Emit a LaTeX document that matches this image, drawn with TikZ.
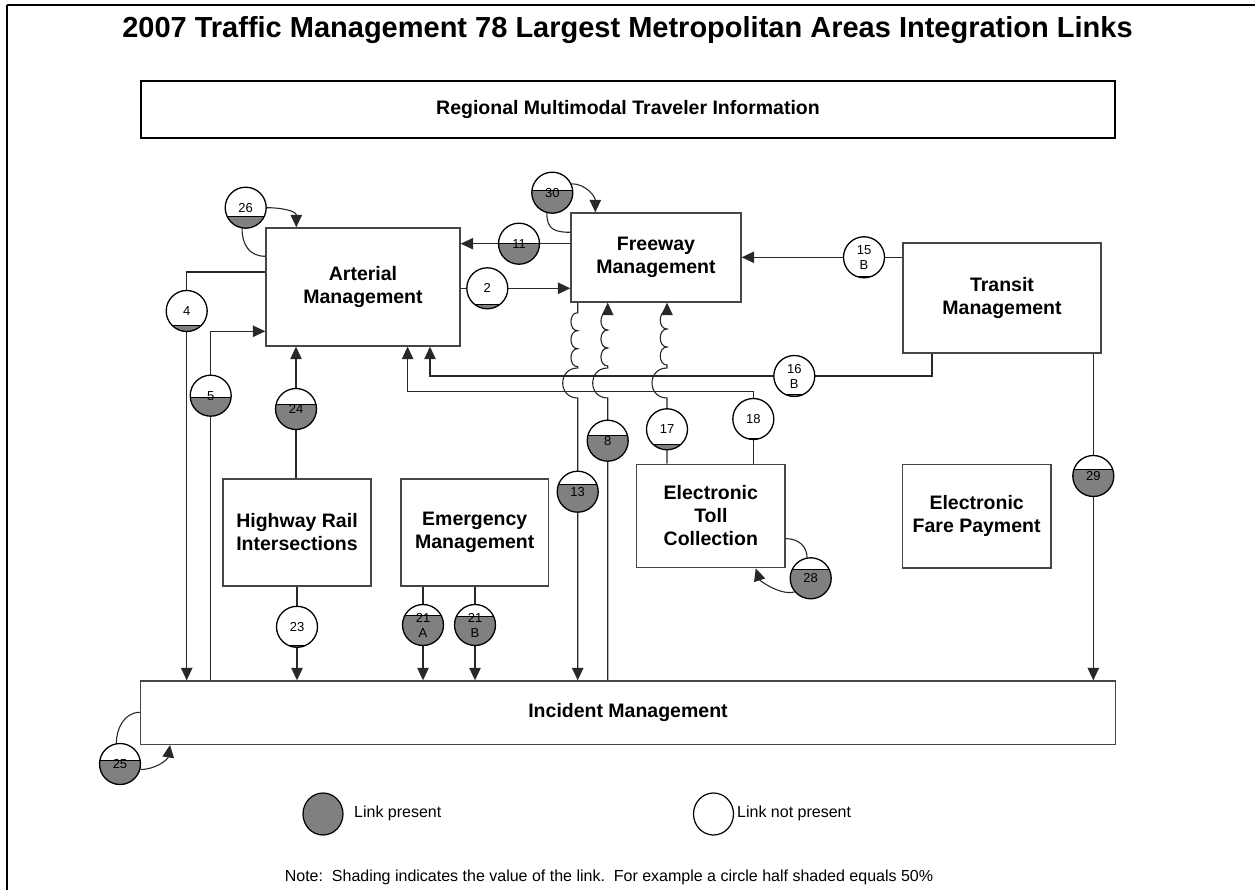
\documentclass[tikz,border=0pt]{standalone}
\usepackage{fontspec}
\setmainfont{Liberation Sans}
\usetikzlibrary{arrows.meta,calc,shapes.geometric}
\definecolor{shadegray}{RGB}{128,128,128}
\definecolor{edgegray}{RGB}{70,70,70}
\definecolor{linkgray}{RGB}{40,40,40}
\pgfdeclarelayer{back}
\pgfsetlayers{back,main}

\tikzset{
  box/.style={draw=edgegray, line width=1.4pt, fill=white, inner sep=0pt, align=center,
              font=\fontsize{19.5}{23}\selectfont\bfseries},
  link/.style={draw=linkgray, line width=1.1pt},
  arr/.style={link, -{Triangle[length=12.5pt,width=11.5pt]}},
  lc/.style={circle, draw=black, line width=1.3pt, minimum size=41pt, inner sep=0pt,
             align=center, font=\fontsize{13}{15}\selectfont},
  legtext/.style={anchor=west, inner sep=0pt, font=\fontsize{16}{18}\selectfont},
  legcirc/.style={ellipse, draw=black, line width=1.2pt, minimum width=40pt, minimum height=42pt, inner sep=0pt},
}

% link circle: name, x, y, shaded fraction, label
\newcommand\linkcirc[5]{%
  \pgfmathsetmacro\lkLvl{#3+20.5-41*#4}%
  \begin{scope}
    \clip (#2,#3) circle[radius=20.5];
    \fill[white] (#2,#3) circle[radius=20.5];
    \fill[shadegray] (#2-21,\lkLvl) rectangle (#2+21,#3+21);
    \draw[line width=1pt] (#2-21,\lkLvl) -- (#2+21,\lkLvl);
  \end{scope}
  \node[lc] (#1) at (#2,#3) {#5};
}

\begin{document}
\begin{tikzpicture}[x=1pt,y=-1pt]
\useasboundingbox (0,0) rectangle (1255,890);

% page frame
\draw[line width=2.5pt] (7,5) -- (1255,5);
\draw[line width=2.5pt] (7,5) -- (7,890);

\node[font=\fontsize{29}{32}\selectfont\bfseries] (title) at (627.5,30)
  {2007 Traffic Management 78 Largest Metropolitan Areas Integration Links};

% systems
\node[box, draw=black, line width=1.1pt, minimum width=974pt, minimum height=57pt] (reg) at (628,109.5) {Regional Multimodal Traveler Information};
\node[box, minimum width=194pt, minimum height=118pt] (art) at (363,287) {Arterial\\Management};
\node[box, minimum width=170pt, minimum height=89pt] (fwy) at (656,257.5) {Freeway\\Management};
\node[box, minimum width=198pt, minimum height=110pt] (trn) at (1002,298) {Transit\\Management};
\node[box, minimum width=148pt, minimum height=107pt] (hri) at (297,532.5) {Highway Rail\\Intersections};
\node[box, minimum width=147.5pt, minimum height=107pt] (emg) at (474.75,532.5) {Emergency\\Management};
\node[box, minimum width=148.3pt, minimum height=103.4pt] (etc) at (710.85,516) {Electronic\\Toll\\Collection};
\node[box, minimum width=148.7pt, minimum height=103.7pt] (efp) at (976.65,516.15) {Electronic\\Fare Payment};
\node[box, minimum width=974.6pt, minimum height=63.3pt] (inc) at (628,712.65) {Incident Management};

% link circles
\linkcirc{c26}{245.7}{207.7}{0.29}{26}
\linkcirc{c30}{552.3}{192.7}{0.55}{30}
\linkcirc{c11}{519}{243.7}{0.50}{11}
\linkcirc{c2}{487.3}{288.3}{0.11}{2}
\linkcirc{c4}{186.7}{311}{0.15}{4}
\linkcirc{c15}{864}{257.3}{0.03}{15\\B}
\linkcirc{c5}{210.7}{395.7}{0.46}{5}
\linkcirc{c24}{296}{409}{0.60}{24}
\linkcirc{c16}{794.3}{376}{0.04}{16\\B}
\linkcirc{c18}{753.3}{419}{0.03}{18}
\linkcirc{c17}{667}{429.3}{0.13}{17}
\linkcirc{c8}{607.7}{440.7}{0.62}{8}
\linkcirc{c13}{577.7}{491.7}{0.67}{13}
\linkcirc{c29}{1093.3}{476}{0.67}{29}
\linkcirc{c28}{810.7}{578.3}{0.71}{28}
\linkcirc{c23}{297}{626.8}{0.04}{23}
\linkcirc{c21a}{423}{625}{0.72}{21\\A}
\linkcirc{c21b}{475}{625}{0.70}{21\\B}
\linkcirc{c25}{120}{764}{0.58}{25}

% levels of the line hops
\coordinate (hopT) at (0,368);
\coordinate (hopB) at (0,398);

\begin{pgfonlayer}{back}
% self links
\draw[link] ($(art.north west)+(0,29)$) .. controls +(-16,0) and +(0,16) .. (c26.-100);
\draw[arr] (c26.east) .. controls +(16,0) and +(0,-16) .. ($(art.north west)+(31,0)$);
\draw[arr] (c30.25) .. controls +(14,0) and +(0,-16) .. ($(fwy.north west)+(25,0)$);
\draw[link] ($(fwy.north west)+(0,20)$) .. controls +(-16,0) and +(0,16) .. (c30.-105);
\draw[link] ($(etc.north east)+(0,75)$) .. controls +(14,0) and +(0,-10) .. (c28.100);
\draw[arr] (c28.-140) .. controls +(-14,4) and +(4,12) .. ($(etc.south east)+(-30,0)$);
\draw[link] ($(inc.north west)+(0,32)$) .. controls +(-16,0) and +(0,-14) .. (c25.100);
\draw[arr] (c25.-15) .. controls +(16,0) and +(-2,14) .. ($(inc.south west)+(30,0)$);

% arterial / freeway
\draw[arr] (fwy.west |- c11.center) -- (art.east |- c11.center);
\draw[arr] (art.east |- c2.center) -- (fwy.west |- c2.center);
\draw[arr] (trn.west |- c15.center) -- (fwy.east |- c15.center);

% arterial / incident
\draw[arr] ($(art.north west)+(0,44.7)$) -| (c4.center |- inc.north);
\draw[arr] (c5.center |- inc.north) |- ($(art.north west)+(0,104)$);
\draw[arr] (c24.center |- hri.north) -- (c24.center |- art.south);

% transit and toll to arterial
\draw[arr] ($(trn.south west)+(29.7,0)$) |- (c16.center) -| ($(art.south west)+(164.7,0)$);
\draw[arr] (c18.center |- etc.north) |- ($(art.south west)+(142.3,44.7)$) -- ($(art.south west)+(142.3,0)$);

% freeway links with waves and hops
\draw[arr] (c13.center |- fwy.south) -- ++(0,10)
  .. controls +(-9,0) and +(-9,0) .. ++(0,18)
  .. controls +(-9,0) and +(-9,0) .. ++(0,18)
  .. controls +(-9,0) and +(-9,0) .. ++(0,18)
  -- (c13.center |- hopT) .. controls +(-20,0) and +(-20,0) .. (c13.center |- hopB)
  -- (c13.center |- inc.north);
\draw[arr] (c8.center |- inc.north) -- (c8.center |- hopB)
  .. controls +(-20,0) and +(-20,0) .. (c8.center |- hopT) -- ++(0,-2)
  .. controls +(-9,0) and +(-9,0) .. ++(0,-18)
  .. controls +(-9,0) and +(-9,0) .. ++(0,-18)
  .. controls +(-9,0) and +(-9,0) .. ++(0,-18)
  -- (c8.center |- fwy.south);
\draw[arr] (c17.center |- etc.north) -- (c17.center |- hopB)
  .. controls +(-20,0) and +(-20,0) .. (c17.center |- hopT) -- ++(0,-3)
  .. controls +(-9,0) and +(-9,0) .. ++(0,-18)
  .. controls +(-9,0) and +(-9,0) .. ++(0,-18)
  .. controls +(-9,0) and +(-9,0) .. ++(0,-18)
  -- (c17.center |- fwy.south);

% to incident
\draw[arr] (c29.center |- trn.south) -- (c29.center |- inc.north);
\draw[arr] (c23.center |- hri.south) -- (c23.center |- inc.north);
\draw[arr] (c21a.center |- emg.south) -- (c21a.center |- inc.north);
\draw[arr] (c21b.center |- emg.south) -- (c21b.center |- inc.north);
\end{pgfonlayer}

% legend
\node[legcirc, fill=shadegray] (lgon) at (323,814) {};
\node[legtext] (lgontext) at (354,813) {Link present};
\node[legcirc, fill=white] (lgoff) at (713.5,814) {};
\node[legtext] (lgofftext) at (737,813) {Link not present};
\node[inner sep=0pt, font=\fontsize{16}{18}\selectfont] (note) at (609,877)
  {Note:\ \ Shading indicates the value of the link.\ \ For example a circle half shaded equals 50\%};
\end{tikzpicture}
\end{document}
